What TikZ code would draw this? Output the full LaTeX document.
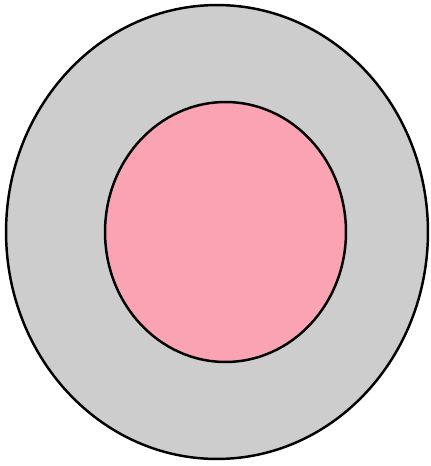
\documentclass[tikz,border=0pt]{standalone}
\usepackage{xcolor}
\usepackage{tikz}
\usetikzlibrary{shapes.geometric}

\definecolor{shellgray}{RGB}{205,205,205}
\definecolor{corepink}{RGB}{250,163,178}

\begin{document}
\begin{tikzpicture}[
    x=0.02cm, y=-0.02cm,
    ring/.style={draw, ellipse, line width=1.4pt, inner sep=0pt, outer sep=0pt}
  ]
  \useasboundingbox (0,0) rectangle (431,466);
  \node[ring, fill=shellgray, minimum width=8.44cm, minimum height=9.08cm] (outer) at (217,232) {};
  \node[ring, fill=corepink, minimum width=4.82cm, minimum height=5.2cm] (inner) at (225.5,232) {};
\end{tikzpicture}
\end{document}
